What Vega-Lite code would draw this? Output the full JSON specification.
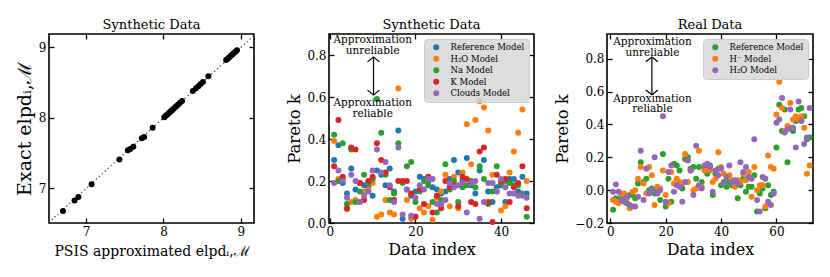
{
  "$schema": "https://vega.github.io/schema/vega-lite/v6.json",
  "padding": {"left": 14, "top": 18, "right": 4, "bottom": 4},
  "background": "white",
  "datasets": {
    "synth1": [
      {"psis": 6.70, "exact": 6.68}, {"psis": 6.85, "exact": 6.83}, {"psis": 6.90, "exact": 6.88},
      {"psis": 7.07, "exact": 7.06}, {"psis": 7.43, "exact": 7.41}, {"psis": 7.54, "exact": 7.54},
      {"psis": 7.57, "exact": 7.56}, {"psis": 7.61, "exact": 7.59}, {"psis": 7.72, "exact": 7.71},
      {"psis": 7.75, "exact": 7.73}, {"psis": 7.86, "exact": 7.86}, {"psis": 8.01, "exact": 8.01},
      {"psis": 8.03, "exact": 8.03}, {"psis": 8.05, "exact": 8.05}, {"psis": 8.07, "exact": 8.07},
      {"psis": 8.09, "exact": 8.09}, {"psis": 8.11, "exact": 8.11}, {"psis": 8.13, "exact": 8.13},
      {"psis": 8.15, "exact": 8.15}, {"psis": 8.17, "exact": 8.17}, {"psis": 8.19, "exact": 8.19},
      {"psis": 8.21, "exact": 8.21}, {"psis": 8.24, "exact": 8.24}, {"psis": 8.38, "exact": 8.38},
      {"psis": 8.42, "exact": 8.42}, {"psis": 8.45, "exact": 8.45}, {"psis": 8.48, "exact": 8.48},
      {"psis": 8.51, "exact": 8.51}, {"psis": 8.58, "exact": 8.59}, {"psis": 8.81, "exact": 8.82},
      {"psis": 8.83, "exact": 8.84}, {"psis": 8.85, "exact": 8.86}, {"psis": 8.87, "exact": 8.88},
      {"psis": 8.89, "exact": 8.90}, {"psis": 8.91, "exact": 8.92}, {"psis": 8.93, "exact": 8.94},
      {"psis": 8.95, "exact": 8.96}
    ],
    "diag": [{"a": 6.4, "b": 6.4}, {"a": 9.3, "b": 9.3}],
    "synth2": [
      {"idx":1,"k":0.30,"model":"Reference Model"},{"idx":2,"k":0.37,"model":"Reference Model"},{"idx":3,"k":0.19,"model":"Reference Model"},{"idx":4,"k":0.14,"model":"Reference Model"},{"idx":5,"k":0.26,"model":"Reference Model"},{"idx":6,"k":0.16,"model":"Reference Model"},{"idx":7,"k":0.19,"model":"Reference Model"},{"idx":8,"k":0.18,"model":"Reference Model"},{"idx":9,"k":0.17,"model":"Reference Model"},{"idx":10,"k":0.13,"model":"Reference Model"},{"idx":11,"k":0.25,"model":"Reference Model"},{"idx":12,"k":0.23,"model":"Reference Model"},{"idx":13,"k":0.18,"model":"Reference Model"},{"idx":14,"k":0.26,"model":"Reference Model"},{"idx":15,"k":0.15,"model":"Reference Model"},{"idx":16,"k":0.44,"model":"Reference Model"},{"idx":17,"k":0.02,"model":"Reference Model"},{"idx":18,"k":0.16,"model":"Reference Model"},{"idx":19,"k":0.13,"model":"Reference Model"},{"idx":20,"k":0.15,"model":"Reference Model"},{"idx":21,"k":0.22,"model":"Reference Model"},{"idx":22,"k":0.21,"model":"Reference Model"},{"idx":23,"k":0.20,"model":"Reference Model"},{"idx":24,"k":0.17,"model":"Reference Model"},{"idx":25,"k":0.16,"model":"Reference Model"},{"idx":26,"k":0.14,"model":"Reference Model"},{"idx":27,"k":0.15,"model":"Reference Model"},{"idx":28,"k":0.21,"model":"Reference Model"},{"idx":29,"k":0.30,"model":"Reference Model"},{"idx":30,"k":0.24,"model":"Reference Model"},{"idx":31,"k":0.20,"model":"Reference Model"},{"idx":32,"k":0.31,"model":"Reference Model"},{"idx":33,"k":0.18,"model":"Reference Model"},{"idx":34,"k":0.14,"model":"Reference Model"},{"idx":35,"k":0.25,"model":"Reference Model"},{"idx":36,"k":0.30,"model":"Reference Model"},{"idx":37,"k":0.15,"model":"Reference Model"},{"idx":38,"k":0.10,"model":"Reference Model"},{"idx":39,"k":0.17,"model":"Reference Model"},{"idx":40,"k":0.18,"model":"Reference Model"},{"idx":41,"k":0.10,"model":"Reference Model"},{"idx":42,"k":0.21,"model":"Reference Model"},{"idx":43,"k":0.21,"model":"Reference Model"},{"idx":44,"k":0.15,"model":"Reference Model"},{"idx":45,"k":0.22,"model":"Reference Model"},{"idx":46,"k":0.14,"model":"Reference Model"},
      {"idx":1,"k":0.39,"model":"H₂O Model"},{"idx":2,"k":0.21,"model":"H₂O Model"},{"idx":3,"k":0.21,"model":"H₂O Model"},{"idx":4,"k":0.065,"model":"H₂O Model"},{"idx":5,"k":0.10,"model":"H₂O Model"},{"idx":6,"k":0.11,"model":"H₂O Model"},{"idx":7,"k":0.10,"model":"H₂O Model"},{"idx":8,"k":0.15,"model":"H₂O Model"},{"idx":9,"k":0.16,"model":"H₂O Model"},{"idx":10,"k":0.19,"model":"H₂O Model"},{"idx":11,"k":0.03,"model":"H₂O Model"},{"idx":12,"k":0.04,"model":"H₂O Model"},{"idx":13,"k":0.11,"model":"H₂O Model"},{"idx":14,"k":0.05,"model":"H₂O Model"},{"idx":15,"k":0.04,"model":"H₂O Model"},{"idx":16,"k":0.64,"model":"H₂O Model"},{"idx":17,"k":0.20,"model":"H₂O Model"},{"idx":18,"k":0.11,"model":"H₂O Model"},{"idx":19,"k":0.02,"model":"H₂O Model"},{"idx":20,"k":0.03,"model":"H₂O Model"},{"idx":21,"k":0.07,"model":"H₂O Model"},{"idx":22,"k":0.05,"model":"H₂O Model"},{"idx":23,"k":0.08,"model":"H₂O Model"},{"idx":24,"k":0.015,"model":"H₂O Model"},{"idx":25,"k":0.12,"model":"H₂O Model"},{"idx":26,"k":0.15,"model":"H₂O Model"},{"idx":27,"k":0.23,"model":"H₂O Model"},{"idx":28,"k":0.08,"model":"H₂O Model"},{"idx":29,"k":0.22,"model":"H₂O Model"},{"idx":30,"k":0.07,"model":"H₂O Model"},{"idx":31,"k":0.24,"model":"H₂O Model"},{"idx":32,"k":0.47,"model":"H₂O Model"},{"idx":33,"k":0.28,"model":"H₂O Model"},{"idx":34,"k":0.49,"model":"H₂O Model"},{"idx":35,"k":0.58,"model":"H₂O Model"},{"idx":36,"k":0.55,"model":"H₂O Model"},{"idx":37,"k":0.44,"model":"H₂O Model"},{"idx":38,"k":0.23,"model":"H₂O Model"},{"idx":39,"k":0.15,"model":"H₂O Model"},{"idx":40,"k":0.06,"model":"H₂O Model"},{"idx":41,"k":0.08,"model":"H₂O Model"},{"idx":42,"k":0.24,"model":"H₂O Model"},{"idx":43,"k":0.34,"model":"H₂O Model"},{"idx":44,"k":0.43,"model":"H₂O Model"},{"idx":45,"k":0.54,"model":"H₂O Model"},{"idx":46,"k":0.20,"model":"H₂O Model"},
      {"idx":1,"k":0.42,"model":"Na Model"},{"idx":2,"k":0.20,"model":"Na Model"},{"idx":3,"k":0.38,"model":"Na Model"},{"idx":4,"k":0.09,"model":"Na Model"},{"idx":5,"k":0.35,"model":"Na Model"},{"idx":6,"k":0.10,"model":"Na Model"},{"idx":7,"k":0.15,"model":"Na Model"},{"idx":8,"k":0.23,"model":"Na Model"},{"idx":9,"k":0.19,"model":"Na Model"},{"idx":10,"k":0.21,"model":"Na Model"},{"idx":11,"k":0.59,"model":"Na Model"},{"idx":12,"k":0.43,"model":"Na Model"},{"idx":13,"k":0.23,"model":"Na Model"},{"idx":14,"k":0.11,"model":"Na Model"},{"idx":15,"k":0.14,"model":"Na Model"},{"idx":16,"k":0.38,"model":"Na Model"},{"idx":17,"k":0.19,"model":"Na Model"},{"idx":18,"k":0.27,"model":"Na Model"},{"idx":19,"k":0.29,"model":"Na Model"},{"idx":20,"k":0.10,"model":"Na Model"},{"idx":21,"k":0.15,"model":"Na Model"},{"idx":22,"k":0.20,"model":"Na Model"},{"idx":23,"k":0.18,"model":"Na Model"},{"idx":24,"k":0.10,"model":"Na Model"},{"idx":25,"k":0.05,"model":"Na Model"},{"idx":26,"k":0.11,"model":"Na Model"},{"idx":27,"k":0.28,"model":"Na Model"},{"idx":28,"k":0.16,"model":"Na Model"},{"idx":29,"k":0.20,"model":"Na Model"},{"idx":30,"k":0.10,"model":"Na Model"},{"idx":31,"k":0.17,"model":"Na Model"},{"idx":32,"k":0.18,"model":"Na Model"},{"idx":33,"k":0.20,"model":"Na Model"},{"idx":34,"k":0.17,"model":"Na Model"},{"idx":35,"k":0.27,"model":"Na Model"},{"idx":36,"k":0.21,"model":"Na Model"},{"idx":37,"k":0.09,"model":"Na Model"},{"idx":38,"k":0.15,"model":"Na Model"},{"idx":39,"k":0.27,"model":"Na Model"},{"idx":40,"k":0.19,"model":"Na Model"},{"idx":41,"k":0.20,"model":"Na Model"},{"idx":42,"k":0.19,"model":"Na Model"},{"idx":43,"k":0.18,"model":"Na Model"},{"idx":44,"k":0.18,"model":"Na Model"},{"idx":45,"k":0.14,"model":"Na Model"},{"idx":46,"k":0.03,"model":"Na Model"},
      {"idx":1,"k":0.27,"model":"K Model"},{"idx":2,"k":0.49,"model":"K Model"},{"idx":3,"k":0.22,"model":"K Model"},{"idx":4,"k":0.07,"model":"K Model"},{"idx":5,"k":0.36,"model":"K Model"},{"idx":6,"k":0.35,"model":"K Model"},{"idx":7,"k":0.19,"model":"K Model"},{"idx":8,"k":0.11,"model":"K Model"},{"idx":9,"k":0.20,"model":"K Model"},{"idx":10,"k":0.22,"model":"K Model"},{"idx":11,"k":0.38,"model":"K Model"},{"idx":12,"k":0.30,"model":"K Model"},{"idx":13,"k":0.24,"model":"K Model"},{"idx":14,"k":0.17,"model":"K Model"},{"idx":15,"k":0.11,"model":"K Model"},{"idx":16,"k":0.20,"model":"K Model"},{"idx":17,"k":0.20,"model":"K Model"},{"idx":18,"k":0.20,"model":"K Model"},{"idx":19,"k":0.14,"model":"K Model"},{"idx":20,"k":0.03,"model":"K Model"},{"idx":21,"k":0.16,"model":"K Model"},{"idx":22,"k":0.09,"model":"K Model"},{"idx":23,"k":0.22,"model":"K Model"},{"idx":24,"k":0.05,"model":"K Model"},{"idx":25,"k":0.13,"model":"K Model"},{"idx":26,"k":0.07,"model":"K Model"},{"idx":27,"k":0.20,"model":"K Model"},{"idx":28,"k":0.17,"model":"K Model"},{"idx":29,"k":0.18,"model":"K Model"},{"idx":30,"k":0.08,"model":"K Model"},{"idx":31,"k":0.22,"model":"K Model"},{"idx":32,"k":0.21,"model":"K Model"},{"idx":33,"k":0.10,"model":"K Model"},{"idx":34,"k":0.09,"model":"K Model"},{"idx":35,"k":0.34,"model":"K Model"},{"idx":36,"k":0.36,"model":"K Model"},{"idx":37,"k":0.10,"model":"K Model"},{"idx":38,"k":0.005,"model":"K Model"},{"idx":39,"k":0.23,"model":"K Model"},{"idx":40,"k":0.20,"model":"K Model"},{"idx":41,"k":0.21,"model":"K Model"},{"idx":42,"k":0.10,"model":"K Model"},{"idx":43,"k":0.17,"model":"K Model"},{"idx":44,"k":0.19,"model":"K Model"},{"idx":45,"k":0.27,"model":"K Model"},{"idx":46,"k":0.07,"model":"K Model"},
      {"idx":1,"k":0.19,"model":"Clouds Model"},{"idx":2,"k":0.25,"model":"Clouds Model"},{"idx":3,"k":0.20,"model":"Clouds Model"},{"idx":4,"k":0.12,"model":"Clouds Model"},{"idx":5,"k":0.23,"model":"Clouds Model"},{"idx":6,"k":0.20,"model":"Clouds Model"},{"idx":7,"k":0.10,"model":"Clouds Model"},{"idx":8,"k":0.13,"model":"Clouds Model"},{"idx":9,"k":0.15,"model":"Clouds Model"},{"idx":10,"k":0.25,"model":"Clouds Model"},{"idx":11,"k":0.35,"model":"Clouds Model"},{"idx":12,"k":0.24,"model":"Clouds Model"},{"idx":13,"k":0.29,"model":"Clouds Model"},{"idx":14,"k":0.18,"model":"Clouds Model"},{"idx":15,"k":0.10,"model":"Clouds Model"},{"idx":16,"k":0.36,"model":"Clouds Model"},{"idx":17,"k":0.04,"model":"Clouds Model"},{"idx":18,"k":0.16,"model":"Clouds Model"},{"idx":19,"k":0.035,"model":"Clouds Model"},{"idx":20,"k":0.12,"model":"Clouds Model"},{"idx":21,"k":0.18,"model":"Clouds Model"},{"idx":22,"k":0.16,"model":"Clouds Model"},{"idx":23,"k":0.21,"model":"Clouds Model"},{"idx":24,"k":0.21,"model":"Clouds Model"},{"idx":25,"k":0.09,"model":"Clouds Model"},{"idx":26,"k":0.09,"model":"Clouds Model"},{"idx":27,"k":0.11,"model":"Clouds Model"},{"idx":28,"k":0.19,"model":"Clouds Model"},{"idx":29,"k":0.17,"model":"Clouds Model"},{"idx":30,"k":0.18,"model":"Clouds Model"},{"idx":31,"k":0.19,"model":"Clouds Model"},{"idx":32,"k":0.05,"model":"Clouds Model"},{"idx":33,"k":0.19,"model":"Clouds Model"},{"idx":34,"k":0.20,"model":"Clouds Model"},{"idx":35,"k":0.02,"model":"Clouds Model"},{"idx":36,"k":0.10,"model":"Clouds Model"},{"idx":37,"k":0.19,"model":"Clouds Model"},{"idx":38,"k":0.19,"model":"Clouds Model"},{"idx":39,"k":0.15,"model":"Clouds Model"},{"idx":40,"k":0.21,"model":"Clouds Model"},{"idx":41,"k":0.17,"model":"Clouds Model"},{"idx":42,"k":0.14,"model":"Clouds Model"},{"idx":43,"k":0.14,"model":"Clouds Model"},{"idx":44,"k":0.13,"model":"Clouds Model"},{"idx":45,"k":0.13,"model":"Clouds Model"},{"idx":46,"k":0.12,"model":"Clouds Model"}
    ],
    "real": [
      {"idx":1,"k":-0.12,"m":"Reference Model"},{"idx":2,"k":-0.05,"m":"Reference Model"},{"idx":3,"k":-0.06,"m":"Reference Model"},{"idx":4,"k":-0.03,"m":"Reference Model"},{"idx":5,"k":-0.03,"m":"Reference Model"},{"idx":6,"k":-0.08,"m":"Reference Model"},{"idx":7,"k":-0.03,"m":"Reference Model"},{"idx":8,"k":-0.03,"m":"Reference Model"},{"idx":9,"k":-0.05,"m":"Reference Model"},{"idx":10,"k":0.04,"m":"Reference Model"},{"idx":11,"k":0.17,"m":"Reference Model"},{"idx":12,"k":0.05,"m":"Reference Model"},{"idx":13,"k":0.07,"m":"Reference Model"},{"idx":14,"k":0.0,"m":"Reference Model"},{"idx":15,"k":0.01,"m":"Reference Model"},{"idx":16,"k":-0.02,"m":"Reference Model"},{"idx":17,"k":0.0,"m":"Reference Model"},{"idx":18,"k":-0.06,"m":"Reference Model"},{"idx":19,"k":0.22,"m":"Reference Model"},{"idx":20,"k":-0.10,"m":"Reference Model"},{"idx":21,"k":0.07,"m":"Reference Model"},{"idx":22,"k":-0.07,"m":"Reference Model"},{"idx":23,"k":0.16,"m":"Reference Model"},{"idx":24,"k":0.15,"m":"Reference Model"},{"idx":25,"k":0.12,"m":"Reference Model"},{"idx":26,"k":0.01,"m":"Reference Model"},{"idx":27,"k":0.19,"m":"Reference Model"},{"idx":28,"k":0.20,"m":"Reference Model"},{"idx":29,"k":0.13,"m":"Reference Model"},{"idx":30,"k":0.14,"m":"Reference Model"},{"idx":31,"k":0.07,"m":"Reference Model"},{"idx":32,"k":0.14,"m":"Reference Model"},{"idx":33,"k":0.05,"m":"Reference Model"},{"idx":34,"k":0.14,"m":"Reference Model"},{"idx":35,"k":0.10,"m":"Reference Model"},{"idx":36,"k":0.15,"m":"Reference Model"},{"idx":37,"k":-0.03,"m":"Reference Model"},{"idx":38,"k":0.10,"m":"Reference Model"},{"idx":39,"k":0.13,"m":"Reference Model"},{"idx":40,"k":0.03,"m":"Reference Model"},{"idx":41,"k":0.05,"m":"Reference Model"},{"idx":42,"k":0.02,"m":"Reference Model"},{"idx":43,"k":0.05,"m":"Reference Model"},{"idx":44,"k":0.03,"m":"Reference Model"},{"idx":45,"k":0.03,"m":"Reference Model"},{"idx":46,"k":-0.05,"m":"Reference Model"},{"idx":47,"k":0.03,"m":"Reference Model"},{"idx":48,"k":0.07,"m":"Reference Model"},{"idx":49,"k":-0.01,"m":"Reference Model"},{"idx":50,"k":0.02,"m":"Reference Model"},{"idx":51,"k":0.02,"m":"Reference Model"},{"idx":52,"k":0.09,"m":"Reference Model"},{"idx":53,"k":-0.13,"m":"Reference Model"},{"idx":54,"k":-0.02,"m":"Reference Model"},{"idx":55,"k":0.01,"m":"Reference Model"},{"idx":56,"k":-0.11,"m":"Reference Model"},{"idx":57,"k":0.03,"m":"Reference Model"},{"idx":58,"k":-0.03,"m":"Reference Model"},{"idx":59,"k":-0.01,"m":"Reference Model"},{"idx":60,"k":0.26,"m":"Reference Model"},{"idx":61,"k":0.52,"m":"Reference Model"},{"idx":62,"k":0.36,"m":"Reference Model"},{"idx":63,"k":0.49,"m":"Reference Model"},{"idx":64,"k":0.17,"m":"Reference Model"},{"idx":65,"k":0.38,"m":"Reference Model"},{"idx":66,"k":0.36,"m":"Reference Model"},{"idx":67,"k":0.42,"m":"Reference Model"},{"idx":68,"k":0.49,"m":"Reference Model"},{"idx":69,"k":0.50,"m":"Reference Model"},{"idx":70,"k":0.45,"m":"Reference Model"},{"idx":71,"k":0.31,"m":"Reference Model"},{"idx":72,"k":0.32,"m":"Reference Model"},
      {"idx":1,"k":-0.06,"m":"H⁻ Model"},{"idx":2,"k":-0.07,"m":"H⁻ Model"},{"idx":3,"k":-0.08,"m":"H⁻ Model"},{"idx":4,"k":-0.02,"m":"H⁻ Model"},{"idx":5,"k":-0.02,"m":"H⁻ Model"},{"idx":6,"k":-0.05,"m":"H⁻ Model"},{"idx":7,"k":-0.11,"m":"H⁻ Model"},{"idx":8,"k":-0.01,"m":"H⁻ Model"},{"idx":9,"k":0.0,"m":"H⁻ Model"},{"idx":10,"k":0.07,"m":"H⁻ Model"},{"idx":11,"k":0.14,"m":"H⁻ Model"},{"idx":12,"k":0.04,"m":"H⁻ Model"},{"idx":13,"k":-0.02,"m":"H⁻ Model"},{"idx":14,"k":0.14,"m":"H⁻ Model"},{"idx":15,"k":0.09,"m":"H⁻ Model"},{"idx":16,"k":-0.09,"m":"H⁻ Model"},{"idx":17,"k":0.02,"m":"H⁻ Model"},{"idx":18,"k":0.01,"m":"H⁻ Model"},{"idx":19,"k":0.12,"m":"H⁻ Model"},{"idx":20,"k":-0.03,"m":"H⁻ Model"},{"idx":21,"k":-0.08,"m":"H⁻ Model"},{"idx":22,"k":0.11,"m":"H⁻ Model"},{"idx":23,"k":0.04,"m":"H⁻ Model"},{"idx":24,"k":0.07,"m":"H⁻ Model"},{"idx":25,"k":0.05,"m":"H⁻ Model"},{"idx":26,"k":0.04,"m":"H⁻ Model"},{"idx":27,"k":0.22,"m":"H⁻ Model"},{"idx":28,"k":0.05,"m":"H⁻ Model"},{"idx":29,"k":0.12,"m":"H⁻ Model"},{"idx":30,"k":0.0,"m":"H⁻ Model"},{"idx":31,"k":0.01,"m":"H⁻ Model"},{"idx":32,"k":0.24,"m":"H⁻ Model"},{"idx":33,"k":0.02,"m":"H⁻ Model"},{"idx":34,"k":0.12,"m":"H⁻ Model"},{"idx":35,"k":0.14,"m":"H⁻ Model"},{"idx":36,"k":0.12,"m":"H⁻ Model"},{"idx":37,"k":0.05,"m":"H⁻ Model"},{"idx":38,"k":0.07,"m":"H⁻ Model"},{"idx":39,"k":0.23,"m":"H⁻ Model"},{"idx":40,"k":0.14,"m":"H⁻ Model"},{"idx":41,"k":0.10,"m":"H⁻ Model"},{"idx":42,"k":0.08,"m":"H⁻ Model"},{"idx":43,"k":0.09,"m":"H⁻ Model"},{"idx":44,"k":0.06,"m":"H⁻ Model"},{"idx":45,"k":0.02,"m":"H⁻ Model"},{"idx":46,"k":0.06,"m":"H⁻ Model"},{"idx":47,"k":0.05,"m":"H⁻ Model"},{"idx":48,"k":0.10,"m":"H⁻ Model"},{"idx":49,"k":0.06,"m":"H⁻ Model"},{"idx":50,"k":0.11,"m":"H⁻ Model"},{"idx":51,"k":-0.04,"m":"H⁻ Model"},{"idx":52,"k":0.14,"m":"H⁻ Model"},{"idx":53,"k":0.0,"m":"H⁻ Model"},{"idx":54,"k":0.03,"m":"H⁻ Model"},{"idx":55,"k":0.03,"m":"H⁻ Model"},{"idx":56,"k":-0.10,"m":"H⁻ Model"},{"idx":57,"k":0.21,"m":"H⁻ Model"},{"idx":58,"k":0.14,"m":"H⁻ Model"},{"idx":59,"k":0.13,"m":"H⁻ Model"},{"idx":60,"k":0.46,"m":"H⁻ Model"},{"idx":61,"k":0.66,"m":"H⁻ Model"},{"idx":62,"k":0.50,"m":"H⁻ Model"},{"idx":63,"k":0.36,"m":"H⁻ Model"},{"idx":64,"k":0.39,"m":"H⁻ Model"},{"idx":65,"k":0.53,"m":"H⁻ Model"},{"idx":66,"k":0.43,"m":"H⁻ Model"},{"idx":67,"k":0.45,"m":"H⁻ Model"},{"idx":68,"k":0.43,"m":"H⁻ Model"},{"idx":69,"k":0.45,"m":"H⁻ Model"},{"idx":70,"k":0.38,"m":"H⁻ Model"},{"idx":71,"k":0.10,"m":"H⁻ Model"},{"idx":72,"k":0.15,"m":"H⁻ Model"},
      {"idx":1,"k":-0.01,"m":"H₂O Model"},{"idx":2,"k":0.035,"m":"H₂O Model"},{"idx":3,"k":-0.01,"m":"H₂O Model"},{"idx":4,"k":-0.06,"m":"H₂O Model"},{"idx":5,"k":-0.07,"m":"H₂O Model"},{"idx":6,"k":-0.04,"m":"H₂O Model"},{"idx":7,"k":-0.09,"m":"H₂O Model"},{"idx":8,"k":-0.10,"m":"H₂O Model"},{"idx":9,"k":-0.10,"m":"H₂O Model"},{"idx":10,"k":-0.04,"m":"H₂O Model"},{"idx":11,"k":0.24,"m":"H₂O Model"},{"idx":12,"k":-0.06,"m":"H₂O Model"},{"idx":13,"k":0.13,"m":"H₂O Model"},{"idx":14,"k":-0.02,"m":"H₂O Model"},{"idx":15,"k":0.0,"m":"H₂O Model"},{"idx":16,"k":0.20,"m":"H₂O Model"},{"idx":17,"k":-0.02,"m":"H₂O Model"},{"idx":18,"k":0.0,"m":"H₂O Model"},{"idx":19,"k":0.45,"m":"H₂O Model"},{"idx":20,"k":-0.07,"m":"H₂O Model"},{"idx":21,"k":0.11,"m":"H₂O Model"},{"idx":22,"k":0.15,"m":"H₂O Model"},{"idx":23,"k":-0.01,"m":"H₂O Model"},{"idx":24,"k":0.03,"m":"H₂O Model"},{"idx":25,"k":0.02,"m":"H₂O Model"},{"idx":26,"k":-0.07,"m":"H₂O Model"},{"idx":27,"k":0.05,"m":"H₂O Model"},{"idx":28,"k":0.18,"m":"H₂O Model"},{"idx":29,"k":0.12,"m":"H₂O Model"},{"idx":30,"k":-0.03,"m":"H₂O Model"},{"idx":31,"k":0.27,"m":"H₂O Model"},{"idx":32,"k":0.03,"m":"H₂O Model"},{"idx":33,"k":0.01,"m":"H₂O Model"},{"idx":34,"k":0.15,"m":"H₂O Model"},{"idx":35,"k":0.16,"m":"H₂O Model"},{"idx":36,"k":0.14,"m":"H₂O Model"},{"idx":37,"k":-0.01,"m":"H₂O Model"},{"idx":38,"k":0.12,"m":"H₂O Model"},{"idx":39,"k":0.09,"m":"H₂O Model"},{"idx":40,"k":0.13,"m":"H₂O Model"},{"idx":41,"k":0.04,"m":"H₂O Model"},{"idx":42,"k":0.08,"m":"H₂O Model"},{"idx":43,"k":0.15,"m":"H₂O Model"},{"idx":44,"k":0.05,"m":"H₂O Model"},{"idx":45,"k":0.06,"m":"H₂O Model"},{"idx":46,"k":0.04,"m":"H₂O Model"},{"idx":47,"k":0.17,"m":"H₂O Model"},{"idx":48,"k":0.11,"m":"H₂O Model"},{"idx":49,"k":0.14,"m":"H₂O Model"},{"idx":50,"k":0.08,"m":"H₂O Model"},{"idx":51,"k":0.07,"m":"H₂O Model"},{"idx":52,"k":0.31,"m":"H₂O Model"},{"idx":53,"k":-0.06,"m":"H₂O Model"},{"idx":54,"k":-0.13,"m":"H₂O Model"},{"idx":55,"k":0.08,"m":"H₂O Model"},{"idx":56,"k":0.07,"m":"H₂O Model"},{"idx":57,"k":-0.07,"m":"H₂O Model"},{"idx":58,"k":-0.09,"m":"H₂O Model"},{"idx":59,"k":-0.02,"m":"H₂O Model"},{"idx":60,"k":0.41,"m":"H₂O Model"},{"idx":61,"k":0.43,"m":"H₂O Model"},{"idx":62,"k":0.56,"m":"H₂O Model"},{"idx":63,"k":0.35,"m":"H₂O Model"},{"idx":64,"k":0.37,"m":"H₂O Model"},{"idx":65,"k":0.49,"m":"H₂O Model"},{"idx":66,"k":0.38,"m":"H₂O Model"},{"idx":67,"k":0.26,"m":"H₂O Model"},{"idx":68,"k":0.54,"m":"H₂O Model"},{"idx":69,"k":0.42,"m":"H₂O Model"},{"idx":70,"k":0.28,"m":"H₂O Model"},{"idx":71,"k":0.32,"m":"H₂O Model"},{"idx":72,"k":0.50,"m":"H₂O Model"}
    ],
    "ann2": [
      {"x": 10, "y": 0.871, "t": "Approximation"}, {"x": 10, "y": 0.821, "t": "unreliable"},
      {"x": 10, "y": 0.57, "t": "Approximation"}, {"x": 10, "y": 0.52, "t": "reliable"}
    ],
    "arr2": [{"x": 10.2, "y1": 0.61, "y2": 0.79}],
    "head2": [{"x": 10.2, "y": 0.79, "dir": "up"}, {"x": 10.2, "y": 0.61, "dir": "down"}],
    "ann3": [
      {"x": 15.2, "y": 0.90, "t": "Approximation"}, {"x": 15.2, "y": 0.837, "t": "unreliable"},
      {"x": 15.2, "y": 0.555, "t": "Approximation"}, {"x": 15.2, "y": 0.492, "t": "reliable"}
    ],
    "arr3": [{"x": 15, "y1": 0.58, "y2": 0.81}],
    "head3": [{"x": 15, "y": 0.81, "dir": "up"}, {"x": 15, "y": 0.58, "dir": "down"}]
  },
  "spacing": 30,
  "resolve": {"scale": {"color": "independent", "shape": "independent"}, "legend": {"color": "independent", "shape": "independent"}},
  "hconcat": [
    {
      "width": 205, "height": 189,
      "title": "Synthetic Data",
      "layer": [
        {
          "data": {"name": "diag"},
          "mark": {"type": "line", "color": "#555555", "strokeDash": [1.5, 2.5], "strokeWidth": 1.2, "clip": true},
          "encoding": {
            "x": {"field": "a", "type": "quantitative", "scale": {"domain": [6.52, 9.17], "nice": false, "zero": false},
                  "axis": {"values": [7, 8, 9], "format": "d", "title": "PSIS approximated elpdᵢ,ℳ", "titleFontSize": 14, "titlePadding": 7}},
            "y": {"field": "b", "type": "quantitative", "scale": {"domain": [6.51, 9.19], "nice": false, "zero": false},
                  "axis": {"values": [7, 8, 9], "format": "d", "title": "Exact elpdᵢ,ℳ", "titleFontSize": 19}}
          }
        },
        {
          "data": {"name": "synth1"},
          "mark": {"type": "circle", "size": 36, "color": "black", "opacity": 1},
          "encoding": {
            "x": {"field": "psis", "type": "quantitative", "scale": {"domain": [6.52, 9.17], "nice": false, "zero": false},
                  "axis": {"orient": "top", "values": [7, 8, 9], "labels": false, "title": null}},
            "y": {"field": "exact", "type": "quantitative", "scale": {"domain": [6.51, 9.19], "nice": false, "zero": false},
                  "axis": {"orient": "right", "values": [7, 8, 9], "labels": false, "title": null}}
          }
        }
      ],
      "resolve": {"axis": {"x": "independent", "y": "independent"}}
    },
    {
      "spacing": 18,
      "resolve": {"scale": {"color": "independent", "shape": "independent"}, "legend": {"color": "independent", "shape": "independent"}},
      "hconcat": [
        {
          "width": 205, "height": 189,
          "title": "Synthetic Data",
          "layer": [
            {
              "data": {"name": "synth2"},
              "mark": {"type": "circle", "size": 36, "opacity": 1},
              "encoding": {
                "x": {"field": "idx", "type": "quantitative", "scale": {"domain": [-0.2, 47.7], "nice": false, "zero": false},
                      "axis": {"values": [0, 20, 40], "format": "d", "title": "Data index"}},
                "y": {"field": "k", "type": "quantitative", "scale": {"domain": [0, 0.9], "nice": false, "zero": false},
                      "axis": {"values": [0, 0.2, 0.4, 0.6, 0.8], "format": ".1f", "title": "Pareto k"}},
                "color": {"field": "model", "type": "nominal",
                          "scale": {"domain": ["Reference Model", "H₂O Model", "Na Model", "K Model", "Clouds Model"],
                                    "range": ["#1f77b4", "#ff7f0e", "#2ca02c", "#d62728", "#9467bd"]},
                          "legend": {"title": null}}
              }
            },
            {
              "mark": {"type": "rule", "color": "#ff0000", "strokeDash": [5, 3], "strokeWidth": 1.5},
              "encoding": {"y": {"datum": 0.7, "type": "quantitative", "scale": {"domain": [0, 0.9], "nice": false, "zero": false}, "axis": null}}
            },
            {
              "data": {"name": "arr2"},
              "mark": {"type": "rule", "color": "black", "strokeWidth": 1.2},
              "encoding": {
                "x": {"field": "x", "type": "quantitative", "scale": {"domain": [-0.2, 47.7], "nice": false, "zero": false}, "axis": null},
                "y": {"field": "y1", "type": "quantitative", "scale": {"domain": [0, 0.9], "nice": false, "zero": false}, "axis": null},
                "y2": {"field": "y2"}
              }
            },
            {
              "data": {"name": "head2"},
              "mark": {"type": "point", "filled": false, "color": "black", "strokeWidth": 1.2, "size": 144, "opacity": 1},
              "encoding": {
                "x": {"field": "x", "type": "quantitative", "scale": {"domain": [-0.2, 47.7], "nice": false, "zero": false}, "axis": null},
                "y": {"field": "y", "type": "quantitative", "scale": {"domain": [0, 0.9], "nice": false, "zero": false}, "axis": null},
                "shape": {"field": "dir", "type": "nominal", "scale": {"domain": ["up", "down"], "range": ["M-1,0.8L0,0L1,0.8", "M-1,-0.8L0,0L1,-0.8"]}, "legend": null}
              }
            },
            {
              "data": {"name": "ann2"},
              "mark": {"type": "text", "fontSize": 10.5, "align": "center", "baseline": "middle", "color": "black"},
              "encoding": {
                "x": {"field": "x", "type": "quantitative", "scale": {"domain": [-0.2, 47.7], "nice": false, "zero": false},
                      "axis": {"orient": "top", "values": [0, 20, 40], "labels": false, "title": null}},
                "y": {"field": "y", "type": "quantitative", "scale": {"domain": [0, 0.9], "nice": false, "zero": false},
                      "axis": {"orient": "right", "values": [0, 0.2, 0.4, 0.6, 0.8], "labels": false, "title": null}},
                "text": {"field": "t"}
              }
            }
          ],
          "resolve": {"axis": {"x": "independent", "y": "independent"}}
        },
        {
          "width": 206, "height": 189,
          "title": "Real Data",
          "layer": [
            {
              "data": {"name": "real"},
              "mark": {"type": "circle", "size": 36, "opacity": 1},
              "encoding": {
                "x": {"field": "idx", "type": "quantitative", "scale": {"domain": [-1.2, 73.2], "nice": false, "zero": false},
                      "axis": {"values": [0, 20, 40, 60], "format": "d", "title": "Data index"}},
                "y": {"field": "k", "type": "quantitative", "scale": {"domain": [-0.2, 0.95], "nice": false, "zero": false},
                      "axis": {"values": [-0.2, 0, 0.2, 0.4, 0.6, 0.8], "format": ".1f", "title": "Pareto k"}},
                "color": {"field": "m", "type": "nominal",
                          "scale": {"domain": ["Reference Model", "H⁻ Model", "H₂O Model"],
                                    "range": ["#2ca02c", "#ff7f0e", "#9467bd"]},
                          "legend": {"title": null}}
              }
            },
            {
              "mark": {"type": "rule", "color": "#ff0000", "strokeDash": [5, 3], "strokeWidth": 1.5},
              "encoding": {"y": {"datum": 0.7, "type": "quantitative", "scale": {"domain": [-0.2, 0.95], "nice": false, "zero": false}, "axis": null}}
            },
            {
              "data": {"name": "arr3"},
              "mark": {"type": "rule", "color": "black", "strokeWidth": 1.2},
              "encoding": {
                "x": {"field": "x", "type": "quantitative", "scale": {"domain": [-1.2, 73.2], "nice": false, "zero": false}, "axis": null},
                "y": {"field": "y1", "type": "quantitative", "scale": {"domain": [-0.2, 0.95], "nice": false, "zero": false}, "axis": null},
                "y2": {"field": "y2"}
              }
            },
            {
              "data": {"name": "head3"},
              "mark": {"type": "point", "filled": false, "color": "black", "strokeWidth": 1.2, "size": 144, "opacity": 1},
              "encoding": {
                "x": {"field": "x", "type": "quantitative", "scale": {"domain": [-1.2, 73.2], "nice": false, "zero": false}, "axis": null},
                "y": {"field": "y", "type": "quantitative", "scale": {"domain": [-0.2, 0.95], "nice": false, "zero": false}, "axis": null},
                "shape": {"field": "dir", "type": "nominal", "scale": {"domain": ["up", "down"], "range": ["M-1,0.8L0,0L1,0.8", "M-1,-0.8L0,0L1,-0.8"]}, "legend": null}
              }
            },
            {
              "data": {"name": "ann3"},
              "mark": {"type": "text", "fontSize": 10.5, "align": "center", "baseline": "middle", "color": "black"},
              "encoding": {
                "x": {"field": "x", "type": "quantitative", "scale": {"domain": [-1.2, 73.2], "nice": false, "zero": false},
                      "axis": {"orient": "top", "values": [0, 20, 40, 60], "labels": false, "title": null}},
                "y": {"field": "y", "type": "quantitative", "scale": {"domain": [-0.2, 0.95], "nice": false, "zero": false},
                      "axis": {"orient": "right", "values": [-0.2, 0, 0.2, 0.4, 0.6, 0.8], "labels": false, "title": null}},
                "text": {"field": "t"}
              }
            }
          ],
          "resolve": {"axis": {"x": "independent", "y": "independent"}}
        }
      ]
    }
  ],
  "config": {
    "font": "DejaVu Serif",
    "view": {"stroke": "black", "strokeWidth": 1.6},
    "axis": {
      "domain": false, "grid": false, "ticks": true, "tickSize": -5, "tickWidth": 1.3, "tickColor": "black",
      "labelFont": "DejaVu Serif", "labelFontSize": 12, "labelColor": "black", "labelPadding": 8, "labelFlush": false,
      "titleFont": "DejaVu Serif", "titleFontSize": 16.5, "titleFontWeight": "normal", "titleColor": "black", "titlePadding": 4
    },
    "axisX": {"titleFontSize": 16, "titlePadding": 4},
    "title": {"font": "DejaVu Serif", "fontSize": 13, "fontWeight": "normal", "color": "black", "offset": 1},
    "legend": {
      "orient": "top-right", "offset": 5, "padding": 4,
      "fillColor": "rgba(212,212,212,0.8)", "strokeColor": "#cccccc", "cornerRadius": 3,
      "labelFont": "DejaVu Serif", "labelFontSize": 8.5, "labelColor": "black",
      "symbolType": "circle", "symbolSize": 36, "symbolStrokeWidth": 0, "symbolOpacity": 1,
      "rowPadding": 2.5, "labelOffset": 10, "symbolOffset": 4
    }
  }
}
